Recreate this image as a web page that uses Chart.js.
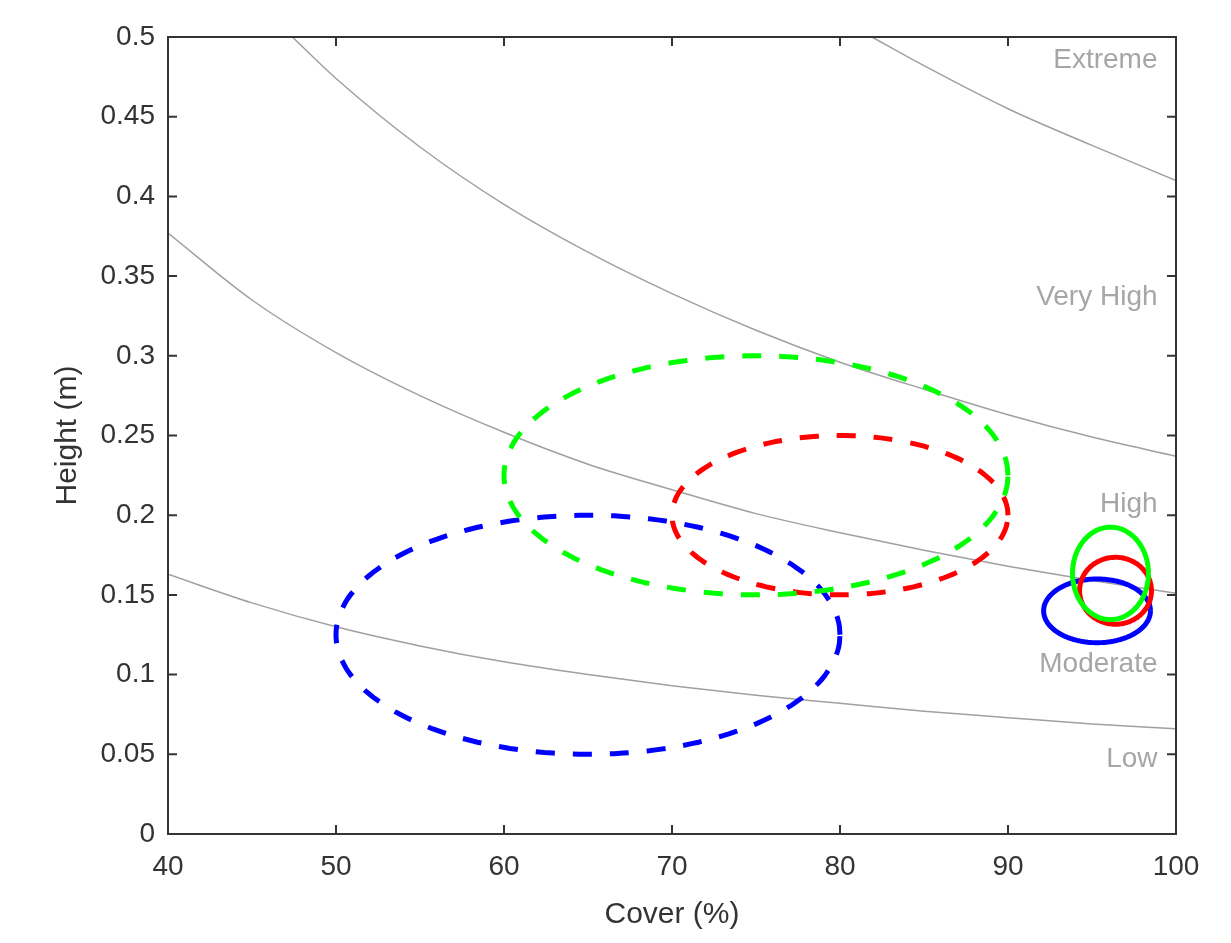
<!DOCTYPE html>
<html>
<head>
<meta charset="utf-8">
<script src="https://cdn.jsdelivr.net/npm/chart.js@4.4.1/dist/chart.umd.min.js"></script>
<style>
  html, body { margin: 0; padding: 0; background: #fff; }
  canvas { display: block; }
</style>
</head>
<body>
<canvas id="hazardChart"></canvas>
<script>
// hazard zone boundary lines (cover %, height m)
const boundaryCover = [40, 45, 50, 55, 60, 65, 70, 75, 80, 85, 90, 95, 100];
const lowModerate = [0.163, 0.145, 0.130, 0.118, 0.108, 0.100, 0.093, 0.087, 0.082, 0.077, 0.073, 0.069, 0.066];
const moderateHigh = [0.377, 0.335, 0.302, 0.275, 0.252, 0.232, 0.216, 0.201, 0.189, 0.178, 0.168, 0.159, 0.151];
const veryHighCover = [47.4, 50, 55, 60, 65, 70, 75, 80, 85, 90, 95, 100];
const highVeryHigh = [0.5, 0.474, 0.431, 0.395, 0.365, 0.339, 0.316, 0.296, 0.279, 0.263, 0.249, 0.237];
const extremeCover = [81.9, 85, 90, 95, 100];
const veryHighExtreme = [0.5, 0.482, 0.455, 0.432, 0.41];

// ellipses: dashed = wide ranges, solid = small ones near 95% cover
const ellipseCx = [65, 80, 75, 95.3, 96.4, 96.1];
const ellipseCy = [0.125, 0.2, 0.225, 0.140, 0.1526, 0.1635];
const ellipseRx = [15, 10, 15, 3.18, 2.14, 2.26];
const ellipseRy = [0.075, 0.05, 0.075, 0.020, 0.021, 0.029];
const ellipseColors = ["#0000ff", "#ff0000", "#00ff00", "#0000ff", "#ff0000", "#00ff00"];
const ellipseDashed = [true, true, true, false, false, false];

// zone names along the right edge
const zoneNames = ["Extreme", "Very High", "High", "Moderate", "Low"];
const zoneLabelY = [0.487, 0.338, 0.208, 0.108, 0.048];
const zoneLabelCover = 98.9;

const coverTicks = [40, 50, 60, 70, 80, 90, 100];
const heightTicks = [0, 0.05, 0.1, 0.15, 0.2, 0.25, 0.3, 0.35, 0.4, 0.45, 0.5];

const FONT = "'Liberation Sans', Arial, Helvetica, sans-serif";

function pairs(xs, ys) {
  return xs.map((x, i) => ({ x: x, y: ys[i] }));
}

function ellipsePoints(i) {
  const pts = [];
  for (let a = 0; a <= 360; a += 4) {
    const t = a * Math.PI / 180;
    pts.push({
      x: ellipseCx[i] + ellipseRx[i] * Math.cos(t),
      y: ellipseCy[i] + ellipseRy[i] * Math.sin(t),
    });
  }
  return pts;
}

const boundaryLines = [
  pairs(boundaryCover, lowModerate),
  pairs(boundaryCover, moderateHigh),
  pairs(veryHighCover, highVeryHigh),
  pairs(extremeCover, veryHighExtreme),
];

const datasets = [];
boundaryLines.forEach(function (pts) {
  datasets.push({
    data: pts,
    borderColor: "#a0a0a0",
    borderWidth: 1.5,
    pointRadius: 0,
    showLine: true,
    cubicInterpolationMode: "monotone",
    order: 10,
  });
});
ellipseCx.forEach(function (_, i) {
  datasets.push({
    data: ellipsePoints(i),
    borderColor: ellipseColors[i],
    borderWidth: 5,
    borderDash: ellipseDashed[i] ? [19, 18] : [],
    pointRadius: 0,
    showLine: true,
    tension: 0.05, // keeps chart.js off its fast path, which mangles closed shapes
    order: 3 - (i % 3),
  });
});

// MATLAB style box with inward ticks plus the zone names
const boxPlugin = {
  id: "boxPlugin",
  afterDatasetsDraw(chart) {
    const ctx = chart.ctx;
    const a = chart.chartArea;
    const xs = chart.scales.x;
    const ys = chart.scales.y;
    ctx.save();

    ctx.font = "28px " + FONT;
    ctx.fillStyle = "#a6a6a6";
    ctx.textAlign = "right";
    ctx.textBaseline = "alphabetic";
    zoneNames.forEach(function (name, i) {
      ctx.fillText(name, xs.getPixelForValue(zoneLabelCover), ys.getPixelForValue(zoneLabelY[i]) + 10);
    });

    ctx.strokeStyle = "#333";
    ctx.lineWidth = 2;
    ctx.strokeRect(a.left, a.top, a.right - a.left, a.bottom - a.top);
    const len = 9;
    ctx.beginPath();
    coverTicks.forEach(function (v) {
      const px = xs.getPixelForValue(v);
      ctx.moveTo(px, a.bottom); ctx.lineTo(px, a.bottom - len);
      ctx.moveTo(px, a.top); ctx.lineTo(px, a.top + len);
    });
    heightTicks.forEach(function (v) {
      const py = ys.getPixelForValue(v);
      ctx.moveTo(a.left, py); ctx.lineTo(a.left + len, py);
      ctx.moveTo(a.right, py); ctx.lineTo(a.right - len, py);
    });
    ctx.stroke();
    ctx.restore();
  },
};

const canvas = document.getElementById("hazardChart");
canvas.width = 1231;
canvas.height = 943;
const ctx = canvas.getContext("2d");

const hazardChart = new Chart(ctx, {
  type: "scatter",
  data: { datasets: datasets },
  options: {
    responsive: false,
    animation: false,
    events: [],
    layout: { padding: { left: 0, top: 37, right: 55, bottom: 0 } },
    scales: {
      x: {
        type: "linear",
        min: 40,
        max: 100,
        afterBuildTicks: function (s) { s.ticks = coverTicks.map(v => ({ value: v })); },
        afterFit: function (s) { s.height = 109; },
        grid: { display: false, drawTicks: false },
        border: { display: false },
        ticks: {
          padding: 16,
          color: "#333",
          font: { family: FONT, size: 28 },
          maxRotation: 0,
          callback: v => String(v),
        },
        title: {
          display: true,
          text: "Cover (%)",
          color: "#333",
          font: { family: FONT, size: 30 },
          padding: { top: 0, bottom: 10 },
        },
      },
      y: {
        type: "linear",
        min: 0,
        max: 0.5,
        afterBuildTicks: function (s) { s.ticks = heightTicks.map(v => ({ value: v })); },
        afterFit: function (s) { s.width = 168; },
        grid: { display: false, drawTicks: false },
        border: { display: false },
        ticks: {
          padding: 13,
          color: "#333",
          font: { family: FONT, size: 28 },
          callback: v => String(v),
        },
        title: {
          display: true,
          text: "Height (m)",
          color: "#333",
          font: { family: FONT, size: 30 },
          padding: { top: 50, bottom: 0 },
        },
      },
    },
    plugins: {
      legend: { display: false },
      tooltip: { enabled: false },
    },
  },
  plugins: [boxPlugin],
});
</script>
</body>
</html>
